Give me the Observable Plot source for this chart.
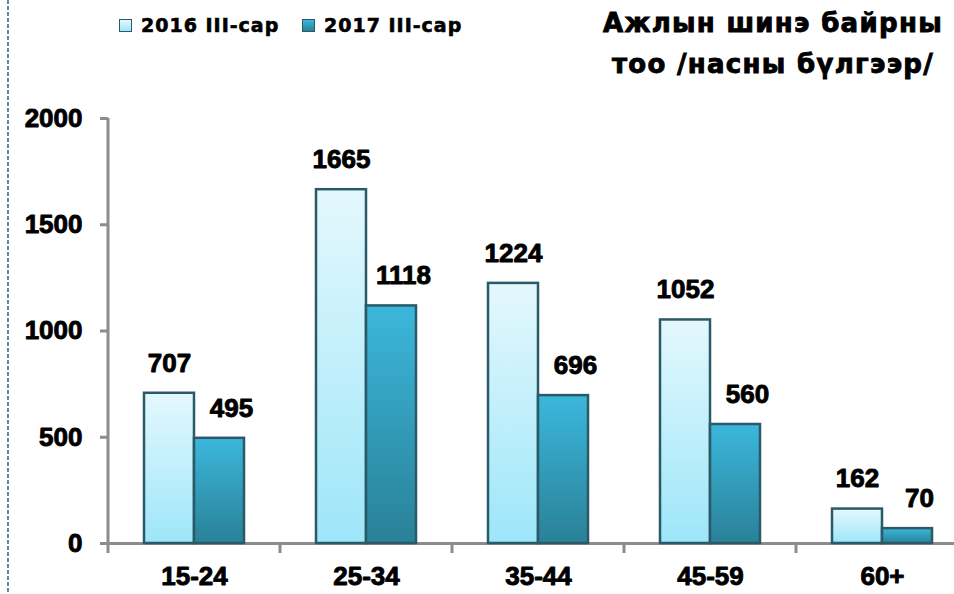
<!DOCTYPE html>
<html><head><meta charset="utf-8">
<script src="https://cdn.jsdelivr.net/npm/d3@7"></script>
<script src="https://cdn.jsdelivr.net/npm/@observablehq/plot@0.6"></script>
<style>
body{margin:0;background:#fff;}
#wrap{position:relative;width:954px;height:594px;overflow:hidden;background:#fff;}
#wrap svg{position:absolute;left:0;top:0;}
.title{position:absolute;left:573px;top:3px;width:400px;text-align:center;font:bold 26px "DejaVu Sans";letter-spacing:1.3px;line-height:41px;color:#000;-webkit-text-stroke:0.9px #000;}
.lg{position:absolute;top:14px;font:bold 19px "DejaVu Sans";letter-spacing:1px;line-height:22px;color:#000;white-space:nowrap;-webkit-text-stroke:0.6px #000;}
.sw{position:absolute;top:19px;width:11px;height:11px;border:1.5px solid #2a5a68;}
</style></head><body><div id="wrap"></div>
<script>
const ages = ["15-24", "25-34", "35-44", "45-59", "60+"];
const years = ["2016 III-сар", "2017 III-сар"];
const v2016 = [707, 1665, 1224, 1052, 162];
const v2017 = [495, 1118, 696, 560, 70];
const yTicks = [0, 500, 1000, 1500, 2000];
const titleLines = ["Ажлын шинэ байрны", "тоо /насны бүлгээр/"];

const data = ages.flatMap((a, i) => [
  {age: a, year: years[0], value: v2016[i]},
  {age: a, year: years[1], value: v2017[i]}
]);

const plot = Plot.plot({
  width: 954, height: 594,
  marginTop: 118, marginBottom: 51, marginLeft: 108, marginRight: -14,
  style: {fontFamily: "'Liberation Sans', Arial, sans-serif", fontWeight: "bold", fontSize: "26px", color: "#000", background: "transparent", overflow: "visible"},
  y: {domain: [0, 2000], axis: null},
  x: {domain: years, paddingInner: 0, paddingOuter: 0.7, axis: null},
  fx: {domain: ages, padding: 0, axis: null},
  color: {domain: years, range: ["url(#g16)", "url(#g17)"]},
  marks: [
    Plot.ruleY([0], {stroke: "#8c8c8c", strokeWidth: 3}),
    Plot.barY(data, {fx: "age", x: "year", y: "value", fill: "year", stroke: "#2a5a68", strokeWidth: 2.5}),
    Plot.text(data, {filter: d => d.year === years[0], fx: "age", x: "year", y: "value", text: d => String(d.value), dy: -30, fill: "#000", stroke: "#000", strokeWidth: 0.9, fontWeight: "bold"}),
    Plot.text(data, {filter: d => d.year === years[1], fx: "age", x: "year", y: "value", text: d => String(d.value), dy: -30, dx: 12, fill: "#000", stroke: "#000", strokeWidth: 0.9, fontWeight: "bold"}),
    Plot.axisY({ticks: yTicks, tickFormat: d => String(d), tickSize: 8, tickPadding: 18, stroke: "#8c8c8c", strokeWidth: 3, fill: "#000", textStroke: "#000", textStrokeWidth: 0.9, label: null}),
    Plot.axisFx({anchor: "bottom", tickSize: 0, tickPadding: 23, fill: "#000", textStroke: "#000", textStrokeWidth: 0.9, label: null})
  ]
});

const svg = d3.select(plot);
const defs = svg.insert("defs", ":first-child");
const g16 = defs.append("linearGradient").attr("id", "g16").attr("x1", 0).attr("y1", 0).attr("x2", 0).attr("y2", 1);
g16.append("stop").attr("offset", "0%").attr("stop-color", "#e4f8fd");
g16.append("stop").attr("offset", "100%").attr("stop-color", "#9de6f9");
const g17 = defs.append("linearGradient").attr("id", "g17").attr("x1", 0).attr("y1", 0).attr("x2", 0).attr("y2", 1);
g17.append("stop").attr("offset", "0%").attr("stop-color", "#3bb7dc");
g17.append("stop").attr("offset", "100%").attr("stop-color", "#2a8197");

const ys = plot.scale("y"), fxs = plot.scale("fx");
const y0 = ys.apply(0), yTop = ys.apply(2000);
const ax = svg.append("g").attr("stroke", "#8c8c8c").attr("stroke-width", 3);
ax.append("line").attr("x1", fxs.apply(ages[0])).attr("x2", fxs.apply(ages[0])).attr("y1", yTop).attr("y2", y0 + 10);
ages.slice(1).forEach(a => {
  const x = fxs.apply(a);
  ax.append("line").attr("x1", x).attr("x2", x).attr("y1", y0).attr("y2", y0 + 10);
});
svg.append("line").attr("x1", 8).attr("x2", 8).attr("y1", 0).attr("y2", 594)
  .attr("stroke", "#2f6f82").attr("stroke-width", 1.6).attr("stroke-dasharray", "4,2");

const wrap = document.getElementById("wrap");
wrap.appendChild(plot);

const t = document.createElement("div");
t.className = "title";
t.innerHTML = titleLines.join("<br>");
wrap.appendChild(t);

const lgPos = [{sw: 119, tx: 141, fill: "linear-gradient(#e4f8fd,#9de6f9)"}, {sw: 302, tx: 324, fill: "linear-gradient(#3bb7dc,#2a8197)"}];
years.forEach((yv, i) => {
  const s = document.createElement("div");
  s.className = "sw"; s.style.left = lgPos[i].sw + "px"; s.style.background = lgPos[i].fill;
  wrap.appendChild(s);
  const l = document.createElement("div");
  l.className = "lg"; l.style.left = lgPos[i].tx + "px"; l.textContent = yv;
  wrap.appendChild(l);
});
</script></body></html>
